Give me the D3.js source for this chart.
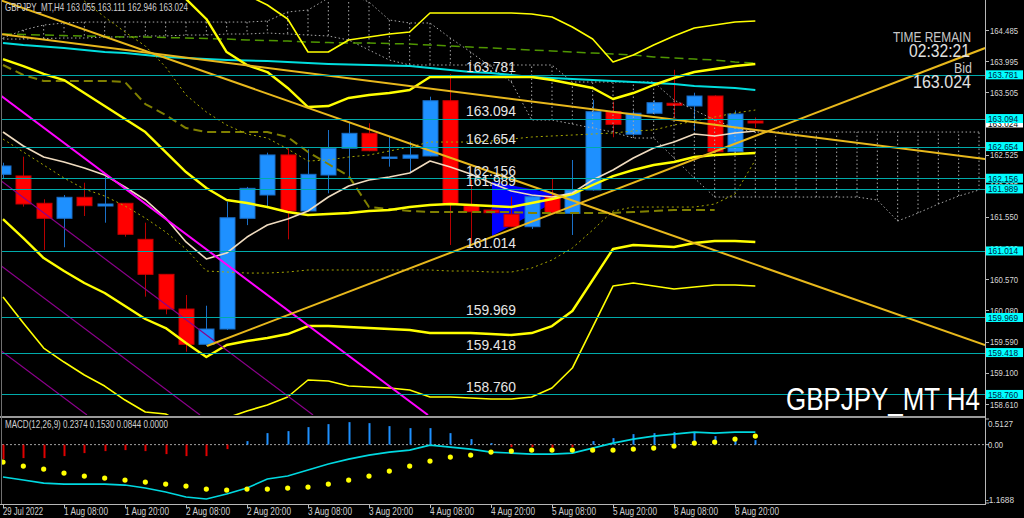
<!DOCTYPE html>
<html><head><meta charset="utf-8">
<script src="https://cdn.jsdelivr.net/npm/d3@7"></script>
<style>html,body{margin:0;padding:0;background:#000;overflow:hidden}svg{display:block}text{font-family:"Liberation Sans",Arial,sans-serif}</style>
</head><body><svg id="c" width="1024" height="518"></svg>
<script>
// ---------- DATA ----------
const titleText = "GBPJPY_MT,H4  163.055 163.111 162.946 163.024";
const macdTitle = "MACD(12,26,9) 0.2374 0.1530 0.0844 0.0000";
const timeLabels = ["29 Jul 2022","1 Aug 08:00","1 Aug 20:00","2 Aug 08:00","2 Aug 20:00","3 Aug 08:00","3 Aug 20:00","4 Aug 08:00","4 Aug 20:00","5 Aug 08:00","5 Aug 20:00","8 Aug 08:00","8 Aug 20:00"];
const timeLabelBars = [0,3,6,9,12,15,18,21,24,27,30,33,36];
const priceTicks = [164.485,163.995,163.505,163.015,162.525,162.035,161.550,161.060,160.570,160.080,159.590,159.100,158.610];
const levels = [163.781,163.094,162.654,162.156,161.989,161.014,159.969,159.418,158.760];
const bidPrice = 163.024;

const opens  = [162.218,162.192,161.763,161.527,161.857,161.720,161.763,161.197,160.647,160.102,159.548,159.788,161.527,161.893,162.522,161.642,162.207,162.627,162.862,162.480,162.470,162.506,163.374,161.720,161.657,161.590,161.395,161.877,161.605,161.972,163.202,162.847,163.177,163.334,163.291,163.448,162.573,163.055];
const highs  = [162.400,162.495,161.826,161.893,162.086,162.180,161.768,161.458,160.650,160.322,160.154,161.788,162.020,162.558,162.627,162.611,162.914,163.045,163.020,162.820,162.730,163.437,163.794,162.130,161.680,161.866,161.900,162.156,162.443,163.385,163.359,163.220,163.380,163.860,163.500,163.460,163.220,163.111];
const lows   = [162.150,161.710,161.029,161.072,161.563,161.458,161.238,160.296,160.019,159.432,159.520,159.773,161.420,161.684,161.197,161.642,161.920,162.192,162.580,162.338,162.243,162.500,161.108,161.140,161.600,161.390,161.360,161.600,161.265,161.960,162.800,162.820,163.160,163.100,162.900,162.550,162.550,162.946];
const closes = [162.349,161.752,161.527,161.857,161.725,161.752,161.276,160.647,160.102,159.548,159.788,161.536,161.998,162.522,161.642,162.218,162.627,162.862,162.589,162.490,162.522,163.374,161.752,161.630,161.615,161.395,161.866,161.615,161.972,163.202,163.004,163.177,163.343,163.302,163.448,162.573,163.166,163.024];

// Bollinger bands (3 sigma, 2 sigma, middle)
const bbUpper3 = [167.768,167.956,168.098,168.129,167.925,167.689,167.501,167.281,166.684,166.228,165.836,165.239,165.035,164.878,164.658,164.139,164.139,164.328,164.375,164.422,164.453,164.752,164.752,164.752,164.752,164.752,164.736,164.689,164.532,164.343,163.982,164.092,164.249,164.391,164.516,164.563,164.610,164.626];
const bbUpper2 = [166.543,166.621,166.684,166.700,166.480,166.228,166.024,165.820,165.333,164.972,164.658,164.139,163.935,163.825,163.574,163.275,163.291,163.417,163.464,163.495,163.542,163.746,163.746,163.746,163.746,163.746,163.746,163.699,163.636,163.574,163.401,163.495,163.621,163.731,163.825,163.872,163.919,163.951];
const bbMiddle = [164.029,163.919,163.794,163.699,163.495,163.291,163.087,162.882,162.568,162.254,162.003,161.814,161.767,161.704,161.626,161.579,161.594,161.610,161.641,161.657,161.704,161.736,161.751,161.736,161.720,161.704,161.767,161.830,161.908,162.050,162.191,162.286,162.364,162.411,162.490,162.521,162.537,162.552];
const bbLower2 = [161.516,161.217,160.903,160.699,160.510,160.353,160.149,159.945,159.803,159.568,159.348,159.536,159.599,159.646,159.709,159.835,159.835,159.819,159.803,159.788,159.772,159.725,159.725,159.725,159.709,159.694,159.725,159.835,160.071,160.558,161.045,161.107,161.092,161.076,161.139,161.170,161.170,161.154];
const bbLower3 = [160.290,159.882,159.489,159.269,159.065,158.892,158.672,158.484,158.453,158.280,158.170,158.390,158.500,158.594,158.720,158.987,158.971,158.892,158.877,158.861,158.830,158.720,158.720,158.704,158.688,158.688,158.720,158.861,159.175,159.819,160.463,160.510,160.463,160.416,160.448,160.479,160.479,160.463];

// Moving averages
const maFast = [162.883,162.663,162.490,162.412,162.317,162.207,162.019,161.815,161.532,161.155,160.888,160.982,161.233,161.422,161.516,161.642,161.862,162.035,162.129,162.176,162.239,162.427,162.333,162.223,162.082,161.956,161.893,161.862,161.925,162.129,162.286,162.474,162.631,162.726,162.851,162.820,162.867,162.898];
const maSlow = [164.281,164.249,164.226,164.202,164.171,164.139,164.123,164.092,164.061,164.045,164.029,164.014,164.006,163.998,163.982,163.966,163.951,163.943,163.935,163.927,163.919,163.888,163.856,163.825,163.809,163.778,163.746,163.731,163.715,163.699,163.684,163.668,163.652,163.636,163.605,163.589,163.574,163.542];
const maLong = [164.422,164.414,164.406,164.398,164.391,164.383,164.375,164.375,164.367,164.359,164.351,164.343,164.328,164.320,164.312,164.296,164.288,164.281,164.281,164.273,164.265,164.249,164.233,164.218,164.202,164.186,164.171,164.155,164.139,164.123,164.108,164.092,164.061,164.045,164.029,164.014,163.982,163.966];

// Ichimoku-like lines
const kijun = [163.935,163.778,163.684,163.684,163.684,163.684,163.668,163.322,163.150,162.945,162.882,162.882,162.882,162.882,162.804,162.568,162.380,162.191,161.704,161.673,161.641,161.626,161.626,161.626,161.626,161.626,161.610,161.610,161.610,161.610,161.610,161.626,161.641,161.657,161.657,161.657];
const tenkanStart = 3;
const tenkan = [165.176,164.940,164.689,164.453,164.233,163.904,163.464,163.197,162.992,162.851,162.788,162.615,162.427,162.443,162.490,162.521,162.584,162.647,162.725,162.725,162.725,162.741,162.772,162.804,162.820,162.835,162.851,162.867,162.898,162.914,162.992,163.055,163.118,163.181,163.228];
const lagLine = [162.772,162.568,162.364,162.160,161.987,161.877,161.720,161.531,161.312,161.045,160.699,160.683,160.667,160.667,160.683,160.715,160.715,160.715,160.715,160.715,160.715,160.715,160.699,160.699,160.683,160.683,160.746,160.872,161.060,161.343,161.641,161.704,161.704,161.704,161.704,161.751,161.908,162.443];
const spanA = [164.359,164.485,164.563,164.595,164.610,164.610,164.610,164.610,164.610,164.610,164.610,164.610,164.610,164.626,164.768,164.799,164.987,165.050,164.925,164.642,164.595,164.595,164.359,164.139,163.904,163.668,163.071,163.071,163.008,162.945,162.882,162.788,162.788,162.474,162.160,161.861,161.861,161.861,161.861,161.861,161.861,161.861,161.861,161.814,161.484,161.610,161.751,161.877,161.971];
const spanB = [164.343,164.343,164.351,164.359,164.359,164.375,164.375,164.391,164.391,164.406,164.406,164.422,164.422,164.438,164.422,164.406,164.391,164.328,164.171,164.014,163.935,163.935,163.935,163.935,163.935,163.935,163.935,163.935,163.668,163.668,163.668,163.668,163.668,163.385,163.228,163.071,162.945,162.882,162.882,162.882,162.882,162.882,162.882,162.882,162.882,162.882,162.882,162.882,162.882];

// Trend-line objects: [barIndex, price] endpoints
const goldLines = [
  [[-0.15,164.956],[48.3,159.537]],
  [[-0.15,164.422],[48.3,162.459]],
  [[10.03,159.521],[48.3,164.202]]
];
const magentaLine = [[-0.15,163.464],[20.9,158.437]];
const purpleLines = [
  [[-0.15,162.129],[15.25,158.437]],
  [[-0.15,160.793],[9.69,158.437]],
  [[-0.15,159.458],[4.13,158.437]]
];
const blueTriangle = [[24.05,162.10],[24.05,161.25],[27.7,161.88]];

// MACD sub-window
const macdMain = [-0.65,-0.71,-0.77,-0.79,-0.79,-0.79,-0.81,-0.87,-0.95,-1.05,-1.09,-0.99,-0.87,-0.69,-0.63,-0.51,-0.39,-0.29,-0.21,-0.15,-0.11,-0.01,-0.05,-0.09,-0.15,-0.17,-0.19,-0.19,-0.17,-0.07,0.03,0.11,0.17,0.21,0.25,0.23,0.25,0.25];
const macdSignal = [-0.35,-0.43,-0.49,-0.57,-0.63,-0.67,-0.71,-0.75,-0.79,-0.83,-0.89,-0.91,-0.89,-0.89,-0.87,-0.85,-0.79,-0.71,-0.63,-0.53,-0.43,-0.33,-0.25,-0.21,-0.15,-0.13,-0.11,-0.11,-0.11,-0.11,-0.11,-0.09,-0.07,-0.03,0.03,0.05,0.11,0.17];
const macdHist = [-0.29,-0.27,-0.27,-0.23,-0.17,-0.13,-0.11,-0.13,-0.19,-0.23,-0.23,-0.09,0.07,0.23,0.27,0.35,0.41,0.45,0.43,0.37,0.33,0.33,0.23,0.11,0.03,-0.05,-0.05,-0.07,-0.05,0.07,0.13,0.21,0.23,0.25,0.25,0.17,0.13,0.09];
const macdTicks = [0.5127,0.00,-1.1688];
const macdTickText = ["0.5127","0.00","-1.1688"];

// ---------- DRAW ----------
const svg = d3.select("#c");
const W = 1024, H = 518;
const plotRight = 985, mainBottom = 415, macdTop = 419, macdBottom = 503;
svg.append("rect").attr("width",W).attr("height",H).attr("fill","#000");

const x = d3.scaleLinear().domain([0,48]).range([3,979]);
const y = d3.scaleLinear().domain([158.610,164.485]).range([404,30]);
const ym = d3.scaleLinear().domain([-1.1688,0.5127]).range([macdBottom,macdTop]);

const defs = svg.append("defs");
defs.append("clipPath").attr("id","mainClip").append("rect").attr("x",2).attr("y",0).attr("width",plotRight-2).attr("height",mainBottom);
defs.append("clipPath").attr("id","macdClip").append("rect").attr("x",2).attr("y",macdTop).attr("width",plotRight-2).attr("height",macdBottom-macdTop);

const main = svg.append("g").attr("clip-path","url(#mainClip)");
const lineOf = (start=0) => d3.line().x((d,k)=>x(k+start)).y(d=>y(d));
const segLine = d3.line().x(d=>x(d[0])).y(d=>y(d[1]));

// background objects
main.append("path").attr("d", segLine(blueTriangle)+"Z").attr("fill","#0000ff");

// candles
const candles = d3.range(opens.length).map(i=>({i,o:opens[i],h:highs[i],l:lows[i],c:closes[i]}));
const cg = main.append("g");
const bw = 15;
cg.selectAll("line.w").data(candles).join("line")
  .attr("x1",d=>Math.round(x(d.i))+0.5).attr("x2",d=>Math.round(x(d.i))+0.5)
  .attr("y1",d=>y(d.h)).attr("y2",d=>y(d.l))
  .attr("stroke",d=>d.c>=d.o?"#1a70c8":"#b80000").attr("stroke-width",1);
cg.selectAll("rect.b").data(candles).join("rect")
  .attr("x",d=>Math.round(x(d.i))-bw/2+0.5).attr("width",bw)
  .attr("y",d=>y(Math.max(d.o,d.c)))
  .attr("height",d=>Math.max(1.5,Math.abs(y(d.o)-y(d.c))))
  .attr("fill",d=>d.c>=d.o?"#1e90ff":"#ff0000")
  .attr("stroke",d=>d.c>=d.o?"#1a6cc4":"#c80000").attr("stroke-width",1);

// ichimoku cloud (dotted)
const cloud = main.append("g").attr("stroke","#a8a8a8").attr("stroke-width",1).attr("stroke-dasharray","1.5,2.5").attr("fill","none");
cloud.selectAll("line").data(d3.range(spanA.length)).join("line")
  .attr("x1",k=>x(k)).attr("x2",k=>x(k)).attr("y1",k=>y(spanA[k])).attr("y2",k=>y(spanB[k]));
cloud.append("path").attr("d",lineOf(0)(spanA));
cloud.append("path").attr("d",lineOf(0)(spanB));

// indicator lines
const addPath = (vals,start,stroke,w,dash)=>{
  const p = main.append("path").attr("d",lineOf(start)(vals)).attr("fill","none")
    .attr("stroke",stroke).attr("stroke-width",w).attr("stroke-linejoin","round");
  if(dash) p.attr("stroke-dasharray",dash);
  return p;
};
addPath(maLong,0,"#4f9600",1.5,"9,5");
addPath(maSlow,0,"#00dede",2);
addPath(kijun,0,"#808000",2,"9,5");
addPath(tenkan,tenkanStart,"#a8a800",1,"2,3");
addPath(lagLine,0,"#a8a800",1,"2,3");
addPath(bbUpper3,0,"#ffff00",1.6);
addPath(bbLower3,0,"#ffff00",1.6);
addPath(bbUpper2,0,"#ffff00",2.4);
addPath(bbMiddle,0,"#ffff00",2.4);
addPath(bbLower2,0,"#ffff00",2.4);
addPath(maFast,0,"#f0dcc0",1.6);

// trend objects
purpleLines.forEach(l=>main.append("path").attr("d",segLine(l)).attr("stroke","#8b008b").attr("stroke-width",1.2).attr("fill","none"));
main.append("path").attr("d",segLine(magentaLine)).attr("stroke","#ff00ff").attr("stroke-width",2).attr("fill","none");
goldLines.forEach(l=>main.append("path").attr("d",segLine(l)).attr("stroke","#e8b81c").attr("stroke-width",2).attr("fill","none"));

// level lines
main.selectAll("line.lv").data(levels).join("line")
  .attr("x1",2).attr("x2",plotRight).attr("y1",d=>Math.round(y(d))+0.5).attr("y2",d=>Math.round(y(d))+0.5)
  .attr("stroke","#00aaaa").attr("stroke-width",1);
main.selectAll("text.lv").data(levels).join("text")
  .attr("x",466).attr("y",d=>y(d)-2.5).attr("font-size",15).attr("fill","#e6e6e6")
  .attr("textLength",50).attr("lengthAdjust","spacingAndGlyphs")
  .text(d=>d.toFixed(3));

// big symbol text
svg.append("text").attr("x",786).attr("y",410).attr("font-size",32).attr("fill","#ffffff")
  .attr("textLength",194).attr("lengthAdjust","spacingAndGlyphs").text("GBPJPY_MT H4");

// info text
const info = svg.append("g").attr("text-anchor","end");
info.append("text").attr("x",971).attr("y",42).attr("font-size",14).attr("fill","#c8c8c8").attr("textLength",78).attr("lengthAdjust","spacingAndGlyphs").text("TIME REMAIN");
info.append("text").attr("x",970).attr("y",57).attr("font-size",18).attr("fill","#e0e0e0").attr("textLength",61).attr("lengthAdjust","spacingAndGlyphs").text("02:32:21");
info.append("text").attr("x",972).attr("y",73).attr("font-size",14).attr("fill","#c8c8c8").attr("textLength",18).attr("lengthAdjust","spacingAndGlyphs").text("Bid");
info.append("text").attr("x",971).attr("y",88).attr("font-size",18).attr("fill","#e0e0e0").attr("textLength",58).attr("lengthAdjust","spacingAndGlyphs").text(bidPrice.toFixed(3));

svg.append("text").attr("x",5).attr("y",10.5).attr("font-size",10.5).attr("fill","#d0d0d0")
  .attr("textLength",183).attr("lengthAdjust","spacingAndGlyphs").text(titleText);

// ---------- MACD ----------
const mg = svg.append("g").attr("clip-path","url(#macdClip)");
mg.append("line").attr("x1",2).attr("x2",plotRight).attr("y1",ym(0)).attr("y2",ym(0))
  .attr("stroke","#a0a0a0").attr("stroke-dasharray","2,2");
mg.selectAll("line.h").data(macdHist).join("line")
  .attr("x1",(d,i)=>Math.round(x(i))+0.5).attr("x2",(d,i)=>Math.round(x(i))+0.5)
  .attr("y1",ym(0)).attr("y2",d=>ym(d))
  .attr("stroke",d=>d>=0?"#1e90ff":"#e00000").attr("stroke-width",2);
mg.append("path").attr("d",d3.line().x((d,i)=>x(i)).y(d=>ym(d))(macdMain))
  .attr("fill","none").attr("stroke","#00d8e0").attr("stroke-width",1.6);
mg.selectAll("circle").data(macdSignal).join("circle")
  .attr("cx",(d,i)=>x(i)).attr("cy",d=>ym(d)).attr("r",2.6).attr("fill","#ffff00");
svg.append("text").attr("x",5).attr("y",428).attr("font-size",10).attr("fill","#d0d0d0")
  .attr("textLength",163).attr("lengthAdjust","spacingAndGlyphs").text(macdTitle);

// ---------- AXES / FRAME ----------
svg.append("rect").attr("x",0).attr("y",mainBottom+1).attr("width",plotRight+1).attr("height",2).attr("fill","#9a9a9a");
svg.append("line").attr("x1",plotRight+0.5).attr("x2",plotRight+0.5).attr("y1",0).attr("y2",504).attr("stroke","#b8b8b8");
svg.append("line").attr("x1",0).attr("x2",plotRight+1).attr("y1",504.5).attr("y2",504.5).attr("stroke","#b8b8b8");
svg.append("line").attr("x1",1.5).attr("x2",1.5).attr("y1",0).attr("y2",504).attr("stroke","#707070");

// price axis
const pa = svg.append("g");
pa.selectAll("line").data(priceTicks).join("line")
  .attr("x1",plotRight).attr("x2",plotRight+4).attr("y1",d=>Math.round(y(d))+0.5).attr("y2",d=>Math.round(y(d))+0.5).attr("stroke","#b8b8b8");
pa.selectAll("text").data(priceTicks).join("text")
  .attr("x",990).attr("y",d=>y(d)+3.5).attr("font-size",9.5).attr("fill","#d8d8d8")
  .attr("textLength",28).attr("lengthAdjust","spacingAndGlyphs").text(d=>d.toFixed(3));

// bid label (white) then level labels (cyan)
svg.append("rect").attr("x",986).attr("y",y(bidPrice)-4.5).attr("width",37).attr("height",9).attr("fill","#ffffff");
svg.append("text").attr("x",988).attr("y",y(bidPrice)+3.5).attr("font-size",9.5).attr("fill","#000")
  .attr("textLength",30).attr("lengthAdjust","spacingAndGlyphs").text(bidPrice.toFixed(3));
const lb = svg.append("g");
lb.selectAll("rect").data(levels).join("rect")
  .attr("x",986).attr("y",d=>y(d)-4.5).attr("width",37).attr("height",9).attr("fill","#00ffff");
lb.selectAll("text").data(levels).join("text")
  .attr("x",988).attr("y",d=>y(d)+3.5).attr("font-size",9.5).attr("fill","#002040")
  .attr("textLength",30).attr("lengthAdjust","spacingAndGlyphs").text(d=>d.toFixed(3));

// macd axis
const ma = svg.append("g");
ma.selectAll("line").data(macdTicks).join("line")
  .attr("x1",plotRight).attr("x2",plotRight+4).attr("y1",d=>ym(d)).attr("y2",d=>ym(d)).attr("stroke","#b8b8b8");
ma.selectAll("text").data(macdTicks).join("text")
  .attr("x",(d,i)=>i===2?986:988).attr("y",(d,i)=>[426.5,447.5,502.5][i]).attr("font-size",9.5).attr("fill","#d8d8d8")
  .attr("textLength",(d,i)=>[25,15,28][i]).attr("lengthAdjust","spacingAndGlyphs").text((d,i)=>macdTickText[i]);

// time axis
const ta = svg.append("g");
ta.selectAll("line").data(timeLabelBars).join("line")
  .attr("x1",d=>Math.round(x(d))+0.5).attr("x2",d=>Math.round(x(d))+0.5).attr("y1",504).attr("y2",508).attr("stroke","#b8b8b8");
ta.selectAll("text").data(timeLabelBars).join("text")
  .attr("x",d=>x(d)).attr("y",515).attr("font-size",10).attr("fill","#d0d0d0")
  .attr("textLength",(d,i)=>i===0?40:44).attr("lengthAdjust","spacingAndGlyphs")
  .text((d,i)=>timeLabels[i]);
</script></body></html>
